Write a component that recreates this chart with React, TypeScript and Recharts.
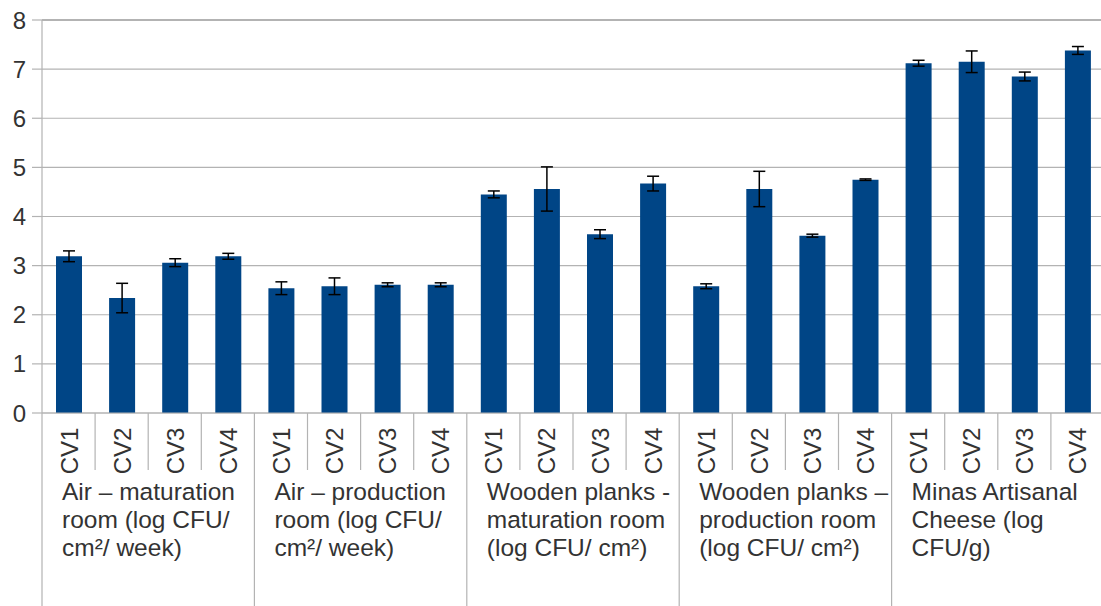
import React from 'react';
import { BarChart, Bar, XAxis, YAxis, CartesianGrid, ErrorBar, ReferenceLine } from 'recharts';

const groupLabels: string[][] = [
  ['Air – maturation', 'room (log CFU/', 'cm²/ week)'],
  ['Air – production', 'room (log CFU/', 'cm²/ week)'],
  ['Wooden planks -', 'maturation room', '(log CFU/ cm²)'],
  ['Wooden planks –', 'production room', '(log CFU/ cm²)'],
  ['Minas Artisanal', 'Cheese (log', 'CFU/g)'],
];
const cvLabels = ['CV1', 'CV2', 'CV3', 'CV4'];
const means = [
  3.19, 2.34, 3.06, 3.19,
  2.54, 2.58, 2.61, 2.61,
  4.45, 4.56, 3.64, 4.67,
  2.58, 4.56, 3.61, 4.75,
  7.12, 7.15, 6.85, 7.38,
];
const errors = [
  0.11, 0.3, 0.08, 0.06,
  0.13, 0.17, 0.04, 0.04,
  0.07, 0.45, 0.09, 0.15,
  0.05, 0.36, 0.03, 0.015,
  0.06, 0.22, 0.09, 0.08,
];
const yTicks = [0, 1, 2, 3, 4, 5, 6, 7, 8];

const data = means.map((v, i) => ({
  id: `${Math.floor(i / 4)}-${cvLabels[i % 4]}`,
  cv: cvLabels[i % 4],
  value: v,
  err: errors[i],
}));

const CHART_W = 1104;
const CHART_H = 606;
const Y_AXIS_W = 42;
const CAT_W = (CHART_W - Y_AXIS_W) / data.length;
const GRID = '#b3b3b3';
const TEXT = '#333';

const CategoryTick = (props: any) => {
  const { x, y, payload } = props;
  const i = payload.index;
  const left = x - CAT_W / 2;
  const first = i % 4 === 0;
  return (
    <g>
      <line x1={left} x2={left} y1={y} y2={first ? CHART_H : y + 57} stroke={GRID} strokeWidth={1.2} />
      <text
        x={x + 9}
        y={y + 38}
        transform={`rotate(-90, ${x + 9}, ${y + 38})`}
        textAnchor="middle"
        fontSize={24}
        fill={TEXT}
      >
        {data[i].cv}
      </text>
      {first &&
        groupLabels[i / 4].map((line, k) => (
          <text key={k} x={left + 20} y={y + 87 + k * 28} fontSize={24.5} fill={TEXT}>
            {line}
          </text>
        ))}
    </g>
  );
};

export default function App() {
  return (
    <div
      style={{
        position: 'absolute',
        left: 0,
        top: 0,
        width: 1101,
        height: CHART_H,
        overflow: 'hidden',
        background: '#fff',
        fontFamily: '"Liberation Sans", Arial, sans-serif',
      }}
    >
      <BarChart width={CHART_W} height={CHART_H} data={data} margin={{ top: 20, right: 0, left: 0, bottom: 0 }}>
        <CartesianGrid vertical={false} stroke={GRID} strokeWidth={1.2} />
        <XAxis
          dataKey="id"
          interval={0}
          height={193}
          tickSize={0}
          tickMargin={0}
          tickLine={false}
          axisLine={{ stroke: GRID, strokeWidth: 1.2 }}
          tick={<CategoryTick />}
        />
        <YAxis
          domain={[0, 8]}
          ticks={yTicks}
          width={Y_AXIS_W}
          tickSize={10}
          tickMargin={6}
          axisLine={{ stroke: GRID, strokeWidth: 1.2 }}
          tickLine={{ stroke: GRID, strokeWidth: 1.2 }}
          tick={{ fontSize: 24, fill: TEXT }}
        />
        <ReferenceLine y={8} stroke={GRID} strokeWidth={2.2} />
        <Bar dataKey="value" fill="#004586" barSize={26} isAnimationActive={false}>
          <ErrorBar dataKey="err" width={6} stroke="#000" strokeWidth={1.5} direction="y" />
        </Bar>
      </BarChart>
    </div>
  );
}
